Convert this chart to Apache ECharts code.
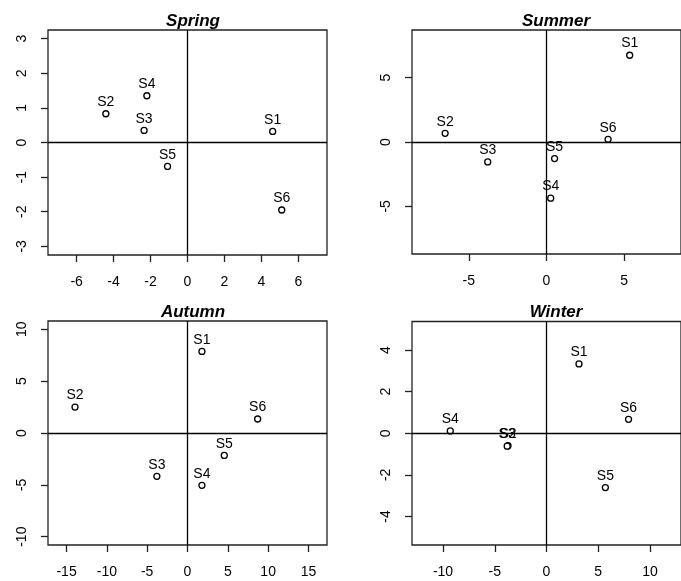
<!DOCTYPE html>
<html>
<head>
<meta charset="utf-8">
<script src="https://cdn.jsdelivr.net/npm/echarts@6/dist/echarts.min.js"></script>
<style>html,body{margin:0;padding:0;background:#fff;}#c{width:681px;height:581px;}</style>
</head>
<body>
<div id="c"></div>
<script>
// Data
const titles = ['Spring', 'Summer', 'Autumn', 'Winter'];
const names = ['S1', 'S2', 'S3', 'S4', 'S5', 'S6'];

const springX = [4.61, -4.42, -2.35, -2.2, -1.08, 5.1];
const springY = [0.32, 0.83, 0.35, 1.35, -0.69, -1.95];
const summerX = [5.35, -6.52, -3.78, 0.27, 0.52, 3.96];
const summerY = [6.74, 0.67, -1.55, -4.36, -1.29, 0.21];
const autumnX = [1.79, -13.95, -3.8, 1.79, 4.56, 8.7];
const autumnY = [7.87, 2.5, -4.18, -5.05, -2.16, 1.35];
const winterX = [3.14, -3.72, -3.8, -9.3, 5.69, 7.93];
const winterY = [3.33, -0.6, -0.62, 0.11, -2.61, 0.67];

const springXTicks = [-6, -4, -2, 0, 2, 4, 6];
const springYTicks = [-3, -2, -1, 0, 1, 2, 3];
const summerXTicks = [-5, 0, 5];
const summerYTicks = [-5, 0, 5];
const autumnXTicks = [-15, -10, -5, 0, 5, 10, 15];
const autumnYTicks = [-10, -5, 0, 5, 10];
const winterXTicks = [-10, -5, 0, 5, 10];
const winterYTicks = [-4, -2, 0, 2, 4];

const xRanges = [7.55, 8.65, 17.3, 13.0];
const yRanges = [3.25, 8.7, 10.8, 5.37];

const panels = [
  {x: springX, y: springY, xt: springXTicks, yt: springYTicks},
  {x: summerX, y: summerY, xt: summerXTicks, yt: summerYTicks},
  {x: autumnX, y: autumnY, xt: autumnXTicks, yt: autumnYTicks},
  {x: winterX, y: winterY, xt: winterXTicks, yt: winterYTicks}
];

// Layout (pixels)
const grids = [
  {left: 48, top: 30, width: 279, height: 225},
  {left: 412, top: 30, width: 278, height: 224},
  {left: 48, top: 321, width: 279, height: 224},
  {left: 412, top: 321.5, width: 278, height: 223.5}
];
const titlePos = [
  {left: 188, top: 8},
  {left: 551, top: 8},
  {left: 188, top: 299},
  {left: 551, top: 299}
];

const FONT = 'Liberation Sans, Arial, sans-serif';
const option = {
  animation: false,
  backgroundColor: '#fff',
  title: titles.map((t, i) => ({
    text: t, left: titlePos[i].left, top: titlePos[i].top, textAlign: 'center',
    textStyle: {fontFamily: FONT, fontSize: 17, fontWeight: 'bold', fontStyle: 'italic', color: '#000'}
  })),
  grid: grids.map(g => Object.assign({show: true, borderColor: '#222', borderWidth: 1.3, backgroundColor: 'transparent', containLabel: false}, g)),
  xAxis: panels.map((p, i) => ({
    type: 'value', gridIndex: i, min: -xRanges[i], max: xRanges[i], position: 'bottom',
    axisLine: {show: false, onZero: false}, splitLine: {show: false},
    axisTick: {show: true, inside: false, length: 7, customValues: p.xt, lineStyle: {color: '#222', width: 1.3}},
    axisLabel: {show: true, customValues: p.xt, margin: 20, fontFamily: FONT, fontSize: 14, color: '#000', showMinLabel: true, showMaxLabel: true}
  })),
  yAxis: panels.map((p, i) => ({
    type: 'value', gridIndex: i, min: -yRanges[i], max: yRanges[i], position: 'left',
    axisLine: {show: false, onZero: false}, splitLine: {show: false},
    axisTick: {show: true, inside: false, length: 7, customValues: p.yt, lineStyle: {color: '#222', width: 1.3}},
    axisLabel: {show: true, customValues: p.yt, rotate: 90, margin: 19, fontFamily: FONT, fontSize: 14, color: '#000', showMinLabel: true, showMaxLabel: true}
  })),
  series: panels.map((p, i) => ({
    type: 'scatter', xAxisIndex: i, yAxisIndex: i,
    data: p.x.map((v, k) => ({name: names[k], value: [v, p.y[k]]})),
    symbol: 'circle', symbolSize: 6,
    itemStyle: {color: '#fff', borderColor: '#000', borderWidth: 1.3, opacity: 1},
    label: {show: true, position: 'top', distance: 1, formatter: '{b}', fontFamily: FONT, fontSize: 14, color: '#000', opacity: 1},
    labelLayout: {hideOverlap: false},
    markLine: {
      silent: true, symbol: ['none', 'none'], label: {show: false},
      lineStyle: {color: '#000', type: 'solid', width: 1.3, opacity: 1},
      data: [{xAxis: 0}, {yAxis: 0}]
    }
  }))
};

const chart = echarts.init(document.getElementById('c'), null, {renderer: 'canvas'});
chart.setOption(option);
</script>
</body>
</html>
